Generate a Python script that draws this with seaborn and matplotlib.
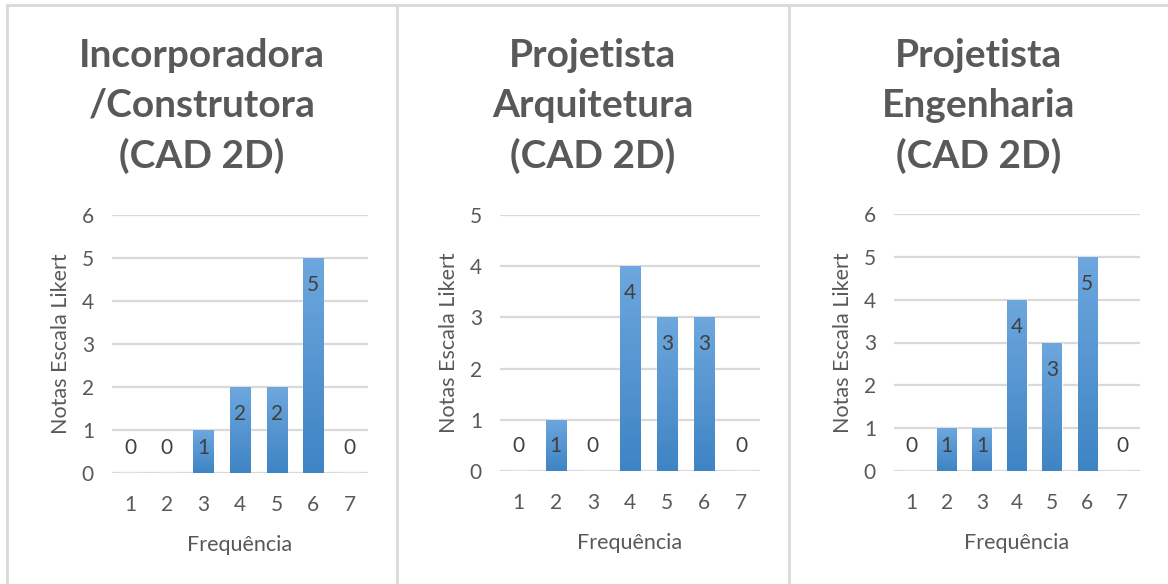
import numpy as np
import pandas as pd
import seaborn as sns
import matplotlib.pyplot as plt
from matplotlib.colors import LinearSegmentedColormap

# data
frequencia = ["1", "2", "3", "4", "5", "6", "7"]
titulos = ["Incorporadora\n/Construtora\n(CAD 2D)",
           "Projetista\nArquitetura\n(CAD 2D)",
           "Projetista\nEngenharia\n(CAD 2D)"]
notas_incorporadora = [0, 0, 1, 2, 2, 5, 0]
notas_arquitetura = [0, 1, 0, 4, 3, 3, 0]
notas_engenharia = [0, 1, 1, 4, 3, 5, 0]
ymax = [6, 5, 6]

sns.set_theme(style="white")
plt.rcParams["font.family"] = ["Lato", "DejaVu Sans"]

W, H = 1168, 584
fig = plt.figure(figsize=(W / 100, H / 100), dpi=100)

cinza = "#595959"
grade = "#D9D9D9"
grad = LinearSegmentedColormap.from_list("azul", ["#3F84C4", "#6DA7DE"])

# pixel boxes of each panel: (left, right, y0 pixel, ytop pixel, box left, box right)
layout = [(112, 368, 473, 215, 7, 397),
          (500, 760, 471, 215, 397, 789),
          (894, 1140, 471, 214, 790, 1168)]
series = [notas_incorporadora, notas_arquitetura, notas_engenharia]

for (l, r, yb, yt, bl, br), vals, tit, ym in zip(layout, series, titulos, ymax):
    ax = fig.add_axes([l / W, 1 - yb / H, (r - l) / W, (yb - yt) / H])
    df = pd.DataFrame({"Frequência": frequencia, "Notas": vals})
    sns.barplot(data=df, x="Frequência", y="Notas", color="#5B9BD5",
                width=0.55, ax=ax, zorder=2)
    ax.set_ylim(0, ym)
    ax.set_xlim(-0.5, len(frequencia) - 0.5)
    ax.set_yticks(range(ym + 1))
    ax.yaxis.grid(True, color=grade, linewidth=1.6, zorder=0)
    ax.set_axisbelow(True)
    for s in ax.spines.values():
        s.set_visible(False)
    ax.tick_params(axis="both", length=0, labelsize=15, labelcolor=cinza)
    ax.tick_params(axis="x", pad=16)
    ax.tick_params(axis="y", pad=13)
    ax.set_xlabel("Frequência", fontsize=15.5, color=cinza, labelpad=14)
    ax.set_ylabel("Notas Escala Likert", fontsize=15.5, color=cinza, labelpad=8)

    # gradient fill clipped to each bar
    for p in ax.patches:
        x0, y0 = p.get_x(), p.get_y()
        w, h = p.get_width(), p.get_height()
        if h <= 0:
            continue
        im = ax.imshow(np.linspace(1, 0, 50).reshape(-1, 1), cmap=grad,
                       aspect="auto", extent=[x0, x0 + w, y0, y0 + h],
                       zorder=3)
        im.set_clip_path(p)
    ax.set_xlim(-0.5, len(frequencia) - 0.5)
    ax.set_ylim(0, ym)

    # data labels (inside end)
    for i, v in enumerate(vals):
        if v >= 2:
            ax.annotate(str(v), (i, v), xytext=(0, -27), textcoords="offset pixels",
                        ha="center", va="center", fontsize=15, color="#404040", zorder=4)
        else:
            ax.annotate(str(v), (i, 0), xytext=(0, 25), textcoords="offset pixels",
                        ha="center", va="center", fontsize=15, color="#404040", zorder=4)

    fig.text(((bl + br) / 2) / W, 1 - 106 / H, tit, ha="center", va="center",
             fontsize=28, fontweight="bold", color=cinza, linespacing=1.52)

# light gray panel borders
for x in [7, 397, 789]:
    fig.add_artist(plt.Line2D([x / W, x / W], [0, 1 - 5 / H], color=grade, lw=2))
fig.add_artist(plt.Line2D([7 / W, 1], [1 - 5 / H, 1 - 5 / H], color=grade, lw=2))

fig.savefig("out.png", dpi=100)
